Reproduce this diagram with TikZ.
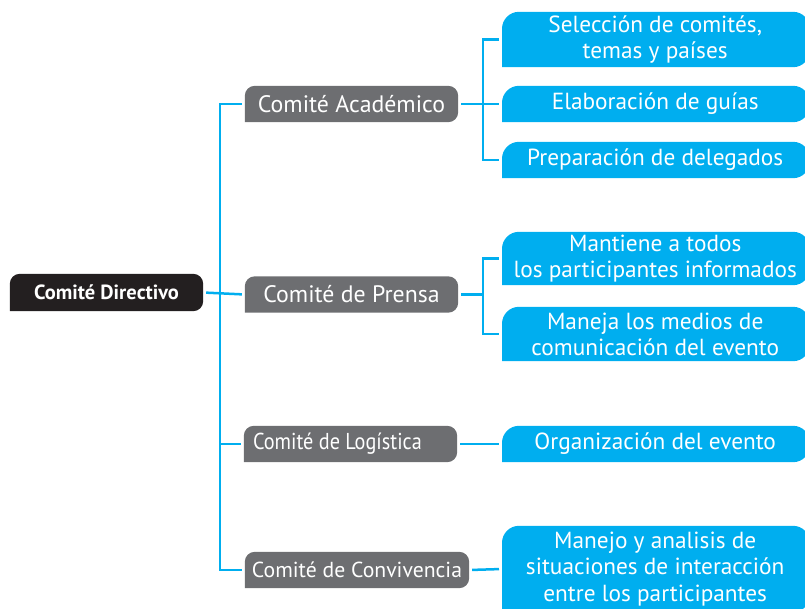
\documentclass[tikz,border=0pt]{standalone}
\usepackage{fontspec}
\setmainfont{PT Sans}
\newfontfamily\estrecha[FakeStretch=0.88]{PT Sans}
\usetikzlibrary{calc}
\pgfdeclarelayer{fondo}
\pgfsetlayers{fondo,main}
\definecolor{cian}{HTML}{00AEEF}
\definecolor{gris}{HTML}{6D6E71}
\definecolor{negro}{HTML}{231F20}
\tikzset{
  texto/.style={text=white, inner sep=0pt, align=center, font=\fontsize{23.3}{26}\selectfont},
  comite/.style={texto, minimum width=213pt, minimum height=36pt},
  tarea/.style={texto, anchor=west, minimum width=306pt, minimum height=36pt},
  linea/.style={cian, line width=2.5pt, shorten <=3pt, shorten >=3pt},
}
% caja con esquinas redondeadas arriba-derecha y abajo-izquierda
\newcommand{\caja}[4]{%
  \fill[#2] (#1.north) [rounded corners=#4] -- (#3 |- #1.north) -- (#3 |- #1.south)
    [sharp corners] -- (#1.south west) [rounded corners=#4] -- (#1.north west) [sharp corners] -- cycle;}

\begin{document}
\begin{tikzpicture}[x=1pt,y=-1pt]
\useasboundingbox (0,0) rectangle (805,608);
\coordinate (ejeA) at (220,0);
\coordinate (ejeB) at (483,0);
\coordinate (dcha) at (810,0);

\node[comite, minimum width=193pt, minimum height=37pt, font=\bfseries\fontsize{20.5}{22}\selectfont] (dir) at (106.5,292.5) {Comité Directivo};

\node[comite, font=\fontsize{23.8}{26}\selectfont] (aca) at (351.5,104) {Comité Académico};
\node[comite, font=\fontsize{23.8}{26}\selectfont] (pre) at (351.5,294.5) {Comité de Prensa};
\node[comite, text width=195pt, align=flush left, font=\estrecha\fontsize{23}{26}\selectfont] (log) at (350.5,444) {Comité de Logística};
\node[comite, minimum width=224pt, font=\fontsize{21.7}{24}\selectfont] (con) at (357,570) {Comité de Convivencia};

\node[tarea, minimum height=55pt] (sel) at (502,39.5) {Selección de comités,\\temas y países};
\node[tarea] (ela) at (502,104) {Elaboración de guías};
\node[tarea] (prep) at (502,160) {Preparación de delegados};
\node[tarea, minimum height=53pt] (man) at (502,258.5) {Mantiene a todos\\los participantes informados};
\node[tarea, minimum height=54pt] (med) at (502,334) {Maneja los medios de\\comunicación del evento};
\node[tarea] (org) at (502,444) {Organización del evento};
\node[tarea, minimum height=86pt, font=\fontsize{23.3}{26.5}\selectfont] (mjo) at (502,569) {Manejo y analisis de\\situaciones de interacción\\entre los participantes};

\begin{pgfonlayer}{fondo}
\caja{dir}{negro}{dir.east}{10pt}
\foreach \n in {aca,pre,log,con} {\caja{\n}{gris}{\n.east}{10pt}}
\foreach \n in {sel,ela,prep,man,med,org,mjo} {\caja{\n}{cian}{dcha}{17pt}}
\end{pgfonlayer}

\draw[linea] (aca.west) -- (aca.west -| ejeA) -- (con.west -| ejeA) -- (con.west);
\draw[linea] (dir.east) -- (pre.west);
\draw[linea, shorten <=0pt] (ejeA |- log.west) -- (log.west);

\draw[linea] (sel.west) -- (sel.west -| ejeB) -- (prep.west -| ejeB) -- (prep.west);
\draw[linea, shorten >=0pt] (aca.east) -- (aca.east -| ejeB);
\draw[linea, shorten <=0pt] (ejeB |- ela.west) -- (ela.west);

\draw[linea] (man.west) -- (man.west -| ejeB) -- (med.west -| ejeB) -- (med.west);
\draw[linea, shorten >=0pt] (pre.east) -- (pre.east -| ejeB);

\draw[linea] (log.east) -- (org.west);
\draw[linea] (con.east) -- (mjo.west);
\end{tikzpicture}
\end{document}
